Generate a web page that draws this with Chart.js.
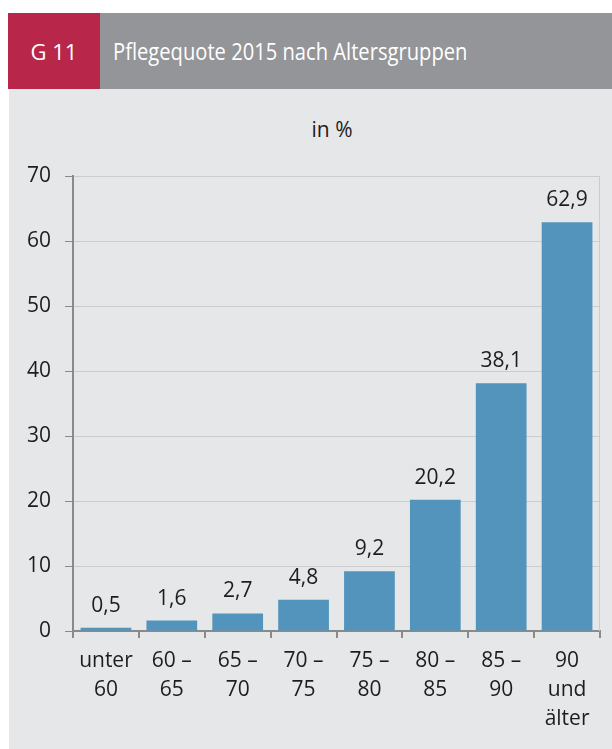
<!DOCTYPE html>
<html>
<head>
<meta charset="utf-8">
<script src="https://cdn.jsdelivr.net/npm/chart.js@4/dist/chart.umd.min.js"></script>
<style>
  body { margin: 0; background: #fff; width: 612px; height: 749px; position: relative; overflow: hidden; font-family: "Open Sans", sans-serif; }
  #tag { position: absolute; left: 8px; top: 13px; width: 92px; height: 76px; background: #B8264A; color: #fff; font-size: 22px; line-height: 76px; text-align: center; }
  #title { position: absolute; left: 100px; top: 13px; width: 512px; height: 76px; background: #939598; color: #fff; font-size: 24px; line-height: 76px; padding-left: 13px; box-sizing: border-box; }
  #title span { display: inline-block; transform: scaleX(0.84); transform-origin: left center; white-space: nowrap; }
  #panel { position: absolute; left: 9px; top: 89px; width: 603px; height: 660px; background: #E6E7E9; }
  #unit { position: absolute; left: 0; top: 26px; width: 646px; text-align: center; font-size: 21px; color: #1d1d1d; }
  #wrap { position: absolute; left: 0; top: 0; width: 603px; height: 660px; }
</style>
</head>
<body>
<div id="tag">G 11</div>
<div id="title"><span>Pflegequote 2015 nach Altersgruppen</span></div>
<div id="panel">
  <div id="unit">in %</div>
  <div id="wrap"><canvas id="chart"></canvas></div>
</div>
<script>
// Werte aus der Grafik
const ageGroups = [['unter', '60'], ['60 –', '65'], ['65 –', '70'], ['70 –', '75'], ['75 –', '80'], ['80 –', '85'], ['85 –', '90'], ['90', 'und', 'älter']];
const quote = [0.5, 1.6, 2.7, 4.8, 9.2, 20.2, 38.1, 62.9];
const yTicks = [0, 10, 20, 30, 40, 50, 60, 70];

const barColor = '#5294BB';
const axisColor = '#8a8a8a';
const gridColor = '#cbccce';
const textColor = '#1d1d1d';

// Werte über den Balken + rechte Rahmenlinie
const barLabels = {
  id: 'barLabels',
  afterDatasetsDraw(chart) {
    const ctx = chart.ctx;
    const area = chart.chartArea;
    ctx.save();
    ctx.strokeStyle = gridColor;
    ctx.lineWidth = 1;
    ctx.beginPath();
    ctx.moveTo(area.right - 0.5, area.top);
    ctx.lineTo(area.right - 0.5, area.bottom);
    ctx.stroke();
    ctx.font = '21px "Open Sans"';
    ctx.fillStyle = textColor;
    ctx.textAlign = 'center';
    ctx.textBaseline = 'alphabetic';
    chart.getDatasetMeta(0).data.forEach((bar, i) => {
      ctx.fillText(quote[i].toFixed(1).replace('.', ','), bar.x, bar.y - 16);
    });
    ctx.restore();
  }
};

new Chart(document.getElementById('chart'), {
  type: 'bar',
  data: {
    labels: ageGroups,
    datasets: [{
      data: quote,
      backgroundColor: barColor,
      barPercentage: 0.77,
      categoryPercentage: 1
    }]
  },
  options: {
    responsive: true,
    maintainAspectRatio: false,
    animation: false,
    layout: { padding: { top: 87, right: 12, left: 0, bottom: 0 } },
    plugins: { legend: { display: false }, tooltip: { enabled: false } },
    scales: {
      x: {
        grid: { offset: true, drawOnChartArea: false, drawTicks: true, tickLength: 7, color: axisColor, lineWidth: 2 },
        border: { color: axisColor, width: 2 },
        ticks: { color: textColor, font: { family: 'Open Sans', size: 21, lineHeight: 1.38 }, padding: 9, maxRotation: 0, autoSkip: false },
        afterFit: s => { s.height = 118; }
      },
      y: {
        min: 0,
        max: 70,
        afterBuildTicks: s => { s.ticks = yTicks.map(v => ({ value: v })); },
        grid: { color: gridColor, lineWidth: 1, tickLength: 8, tickColor: axisColor },
        border: { color: axisColor, width: 2 },
        ticks: { color: textColor, font: { family: 'Open Sans', size: 21 }, padding: 14 },
        afterFit: s => { s.width = 64; }
      }
    }
  },
  plugins: [barLabels]
});
</script>
</body>
</html>
